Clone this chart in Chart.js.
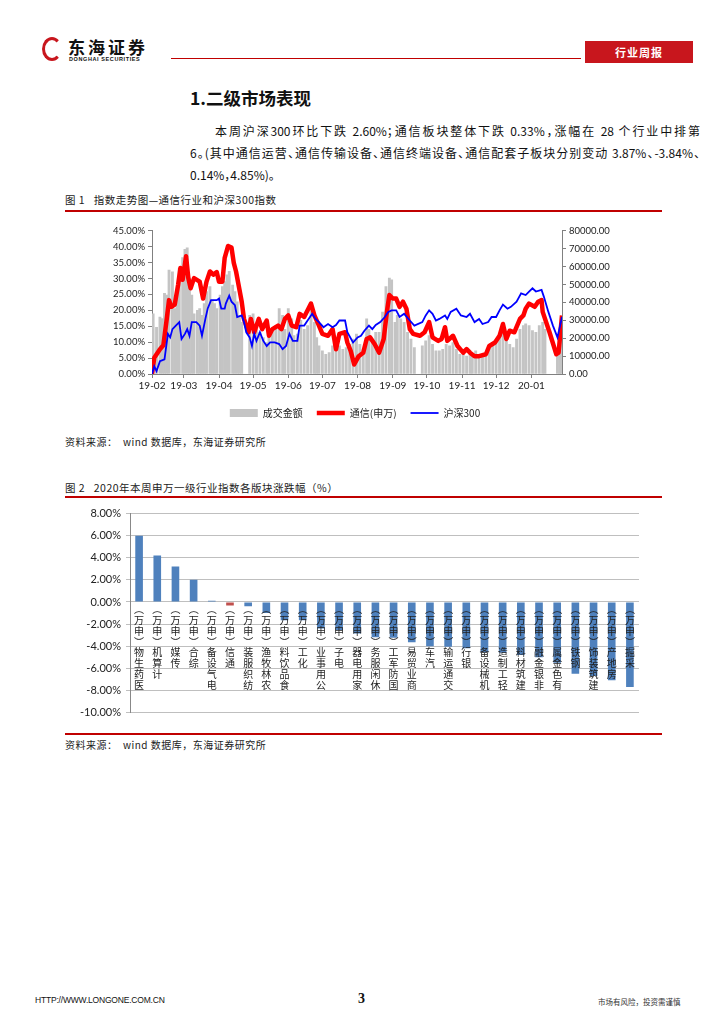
<!DOCTYPE html>
<html>
<head>
<meta charset="utf-8">
<script src="https://cdn.jsdelivr.net/npm/chart.js@4.4.1/dist/chart.umd.min.js"></script>
<style>
body{margin:0;width:724px;height:1024px;position:relative;background:#fff;overflow:hidden;
  font-family:"Noto Sans CJK SC","Noto Sans",sans-serif;color:#111}
.a{position:absolute;white-space:nowrap}
.redline{position:absolute;background:#C00000}
.cap{font-size:10.5px;letter-spacing:.5px;color:#222}
.para{position:absolute;left:190px;width:510px;font-size:12px;line-height:22px;font-feature-settings:"halt"}
.para div{text-align:justify;text-align-last:justify;height:22px;white-space:nowrap}
</style>
</head>
<body>
<!-- header -->
<div class="a" style="left:42px;top:37px;width:20px;height:24px;border:3px solid #C8161D;border-radius:50%;border-right-color:transparent;box-sizing:border-box"></div>
<div class="a" style="left:68px;top:34px;font-size:17px;font-weight:bold;letter-spacing:3px;color:#111">东海证券</div>
<div class="a" style="left:69px;top:56px;font-size:5.5px;font-weight:bold;letter-spacing:.6px;font-family:'Liberation Sans'">DONGHAI SECURITIES</div>
<div class="redline" style="left:171px;top:58px;width:410px;height:1px"></div>
<div class="a" style="left:585px;top:41px;width:108px;height:22px;background:#C8161D;color:#fff;font-size:11px;font-weight:bold;text-align:center;line-height:22px;letter-spacing:1px">行业周报</div>

<div class="a" style="left:190px;top:85px;font-size:17.5px;font-weight:bold">1.二级市场表现</div>
<div class="para" style="top:120px">
  <div style="text-indent:25px">本周沪深300环比下跌 2.60%；通信板块整体下跌 0.33%，涨幅在 28 个行业中排第</div>
  <div>6。(其中通信运营、通信传输设备、通信终端设备、通信配套子板块分别变动 3.87%、-3.84%、</div>
  <div style="text-align-last:left">0.14%，4.85%)。</div>
</div>

<div class="a cap" style="left:65px;top:192px">图 1&nbsp;&nbsp;&nbsp;指数走势图—通信行业和沪深300指数</div>
<div class="redline" style="left:65px;top:210px;width:597px;height:2px"></div>
<div class="a" style="left:60px;top:222px;width:590px;height:208px"><canvas id="c1"></canvas></div>
<div class="a cap" style="left:65px;top:434px;font-size:10px">资料来源：&nbsp;&nbsp;wind 数据库，东海证券研究所</div>

<div class="a cap" style="left:65px;top:480px">图 2&nbsp;&nbsp;&nbsp;2020年本周申万一级行业指数各版块涨跌幅（%）</div>
<div class="redline" style="left:65px;top:496px;width:597px;height:2px"></div>
<div class="a" style="left:60px;top:502px;width:600px;height:222px"><canvas id="c2"></canvas></div>
<div class="redline" style="left:65px;top:733px;width:597px;height:2px"></div>
<div class="a cap" style="left:65px;top:737px;font-size:10px">资料来源：&nbsp;&nbsp;wind 数据库，东海证券研究所</div>

<!-- footer -->
<div class="a" style="left:35px;top:995px;font-size:8.5px;font-family:'Liberation Sans';letter-spacing:-.2px">HTTP://WWW.LONGONE.COM.CN</div>
<div class="a" style="left:358px;top:991px;font-size:14px;font-weight:bold;font-family:'Liberation Serif'">3</div>
<div class="a" style="left:598px;top:996px;font-size:7.5px;color:#333">市场有风险，投资需谨慎</div>

<script>
// ---- 图1 数据（x 为自 2019-02-11 起的天数）----
const tickDays = [0, 28, 59, 89, 120, 150, 181, 212, 242, 273, 303, 334];
const tickLabels = ['19-02', '19-03', '19-04', '19-05', '19-06', '19-07', '19-08', '19-09', '19-10', '19-11', '19-12', '20-01'];

const volDays = [1, 4, 7, 9, 11, 13, 15, 18, 20, 22,
  24, 27, 29, 31, 33, 35, 37, 40, 42, 44,
  46, 48, 51, 53, 55, 57, 60, 62, 64, 66,
  68, 71, 73, 75, 77, 79, 86, 89, 92, 95,
  98, 101, 103, 106, 109, 112, 115, 117, 120, 123,
  125, 128, 131, 134, 137, 140, 143, 145, 147, 150,
  153, 156, 159, 162, 165, 168, 171, 174, 177, 180,
  183, 186, 189, 191, 194, 197, 200, 203, 206, 209,
  211, 214, 216, 219, 222, 225, 228, 231, 238, 241,
  244, 247, 250, 253, 256, 259, 262, 265, 268, 271,
  274, 277, 280, 282, 285, 288, 291, 294, 297, 300,
  303, 306, 309, 312, 315, 318, 321, 324, 327, 329,
  332, 335, 338, 341, 344, 346, 357, 359, 360];
const volValues = [33600, 26000, 31800, 31000, 45000, 44000, 58000, 57000, 36500, 42000,
  59000, 65000, 69600, 70500, 53500, 44000, 33600, 35500, 36500, 32700,
  39300, 46000, 48800, 41200, 39300, 36500, 44000, 48800, 51600, 55400,
  57300, 49700, 46000, 40300, 32700, 28900, 32700, 33600, 25000, 23300,
  20400, 17600, 22300, 25000, 27000, 36500, 32700, 25000, 36500, 30800,
  21400, 22300, 29900, 25000, 27000, 37400, 28900, 20400, 15700, 12900,
  11000, 11900, 15700, 13800, 15700, 13800, 14700, 16600, 19500, 22300,
  16600, 13800, 30800, 25000, 17600, 23300, 23300, 34600, 48800, 53500,
  52600, 28900, 32700, 30800, 28900, 23300, 19500, 14700, 15700, 18500,
  21400, 16600, 12900, 12900, 13800, 16600, 15700, 17600, 13800, 11000,
  11900, 10000, 11900, 10000, 12900, 10000, 11000, 11900, 14700, 17600,
  18500, 21400, 23300, 22300, 16600, 14700, 19500, 25000, 27000, 28000,
  27000, 24200, 23300, 27000, 28900, 25000, 13800, 18000, 20000];

const telDays = [0, 2, 7, 10, 13, 15, 17, 20, 23, 25,
  27, 30, 32, 34, 37, 42, 45, 48, 51, 54,
  57, 59, 62, 64, 67, 70, 72, 74, 79, 81,
  85, 87, 90, 94, 97, 101, 103, 106, 111, 114,
  117, 120, 123, 127, 130, 134, 137, 140, 143, 147,
  150, 155, 159, 162, 165, 170, 172, 175, 178, 182,
  186, 189, 192, 196, 200, 204, 207, 209, 212, 215,
  218, 221, 224, 227, 230, 236, 240, 244, 247, 252,
  255, 258, 260, 265, 269, 274, 277, 280, 284, 288,
  294, 297, 302, 306, 309, 312, 315, 319, 324, 327,
  329, 332, 337, 340, 343, 344, 350, 356, 358, 361];
const telValues = [0, 5.1, 7.8, 9.0, 17.3, 23.2, 21.1, 21.8, 28.0, 33.3,
  29.6, 37.0, 30.1, 26.9, 30.1, 29.0, 23.7, 29.0, 32.2, 31.2,
  32.0, 29.0, 29.0, 36.5, 40.2, 39.7, 34.9, 32.2, 22.7, 17.3,
  13.1, 17.3, 13.1, 17.3, 14.1, 16.8, 12.0, 14.1, 15.2, 14.1,
  17.3, 18.4, 15.2, 14.7, 18.9, 17.9, 20.0, 22.1, 18.4, 15.2,
  12.6, 12.0, 14.1, 7.8, 12.6, 13.1, 9.9, 7.2, 3.0, 5.6,
  6.7, 11.0, 11.5, 9.4, 6.7, 11.0, 20.0, 24.8, 23.7, 23.7,
  21.1, 22.7, 20.5, 14.1, 12.6, 12.0, 13.1, 16.3, 11.5, 10.4,
  11.0, 14.7, 10.4, 12.0, 8.8, 6.7, 7.8, 6.7, 5.6, 5.6,
  6.2, 8.8, 9.9, 12.0, 15.7, 11.0, 13.6, 13.1, 17.3, 18.4,
  20.5, 22.1, 21.1, 22.7, 23.2, 19.5, 13.1, 6.2, 6.7, 18.4];

const hsDays = [0, 2, 4, 7, 11, 14, 16, 18, 21, 24,
  26, 29, 31, 33, 35, 39, 42, 44, 47, 49,
  52, 57, 59, 61, 64, 65, 68, 70, 73, 75,
  79, 81, 83, 86, 88, 90, 92, 95, 98, 101,
  104, 108, 112, 115, 118, 121, 124, 128, 130, 134,
  137, 141, 144, 147, 151, 155, 159, 162, 165, 170,
  172, 177, 181, 184, 187, 191, 194, 197, 201, 205,
  208, 211, 215, 218, 222, 227, 231, 238, 241, 244,
  247, 250, 253, 258, 260, 263, 268, 272, 277, 280,
  284, 288, 291, 296, 299, 303, 306, 309, 313, 316,
  321, 325, 329, 332, 335, 338, 343, 345, 349, 353,
  357, 361];
const hsValues = [0, 2.4, 0.9, 4.0, 4.6, 12.6, 11.5, 14.1, 15.2, 16.3,
  11.0, 12.6, 14.1, 12.0, 16.3, 16.3, 15.2, 12.0, 17.3, 20.5,
  23.2, 23.2, 23.7, 20.5, 20.5, 22.1, 24.6, 22.7, 21.6, 17.9,
  18.4, 16.3, 13.1, 11.5, 8.8, 12.6, 10.4, 13.1, 10.4, 8.8,
  9.9, 9.9, 9.4, 7.8, 8.8, 12.6, 10.4, 10.4, 15.2, 15.2,
  16.8, 18.9, 17.3, 16.3, 14.7, 15.7, 14.7, 15.4, 16.8, 16.8,
  13.1, 9.9, 11.5, 12.0, 13.6, 15.2, 14.1, 15.4, 16.3, 17.9,
  19.5, 20.0, 20.0, 17.9, 18.9, 16.8, 15.2, 16.3, 18.4, 20.0,
  18.9, 16.8, 17.3, 18.4, 17.3, 19.5, 20.5, 18.4, 17.9, 18.9,
  16.3, 17.3, 15.7, 16.3, 17.9, 17.9, 20.0, 21.8, 20.5, 21.1,
  22.7, 25.3, 24.8, 25.9, 26.9, 25.9, 26.4, 24.3, 19.5, 15.2,
  11.5, 17.9];

// ---- 图2 数据 ----
const industries = ['医药生物', '计算机', '传媒', '综合', '电气设备', '通信', '纺织服装', '农林牧渔', '食品饮料', '化工',
  '公用事业', '电子', '家用电器', '休闲服务', '国防军工', '商业贸易', '汽车', '交通运输', '银行', '机械设备',
  '轻工制造', '建筑材料', '非银金融', '有色金属', '钢铁', '建筑装饰', '房地产', '采掘'];
const weekChange = [6.0, 4.2, 3.2, 2.0, 0.1, -0.33, -0.4, -1.0, -1.65, -1.65,
  -2.4, -2.55, -2.85, -3.2, -3.25, -3.65, -4.0, -4.05, -4.2, -4.55,
  -4.6, -4.8, -5.0, -5.5, -6.5, -6.7, -7.1, -7.7];

Chart.defaults.font.family = 'Lato, "Noto Sans CJK SC", sans-serif';
Chart.defaults.color = '#222';
Chart.defaults.animation = false;

const pts = (xs, ys) => xs.map((x, i) => ({x: x, y: ys[i]}));

new Chart(document.getElementById('c1'), {
  type: 'bar',
  data: {
    datasets: [{
      label: '成交金额',
      data: pts(volDays, volValues),
      yAxisID: 'y1',
      backgroundColor: '#C4C4C4',
      barThickness: 2.2,
      pointStyle: 'rect',
      order: 3
    }, {
      type: 'line',
      label: '通信(申万)',
      data: pts(telDays, telValues),
      yAxisID: 'y',
      borderColor: '#FF0000',
      backgroundColor: '#FF0000',
      borderWidth: 4.5,
      pointRadius: 0,
      borderJoinStyle: 'round',
      pointStyle: 'line',
      order: 2
    }, {
      type: 'line',
      label: '沪深300',
      data: pts(hsDays, hsValues),
      yAxisID: 'y',
      borderColor: '#0000FF',
      backgroundColor: '#0000FF',
      borderWidth: 1.8,
      pointRadius: 0,
      pointStyle: 'line',
      order: 1
    }]
  },
  options: {
    responsive: true,
    maintainAspectRatio: false,
    layout: {padding: {top: 4, bottom: 2}},
    plugins: {
      tooltip: {enabled: false},
      legend: {
        position: 'bottom',
        labels: {
          usePointStyle: true,
          pointStyleWidth: 28,
          boxHeight: 8,
          padding: 14,
          font: {size: 10, family: '"Noto Sans CJK SC"'},
          sort: (a, b) => a.datasetIndex - b.datasetIndex
        }
      }
    },
    scales: {
      x: {
        type: 'linear',
        min: 0,
        max: 361,
        offset: false,
        afterBuildTicks: s => { s.ticks = tickDays.map(v => ({value: v})); },
        ticks: {
          callback: v => tickLabels[tickDays.indexOf(v)],
          autoSkip: false, maxRotation: 0, padding: 2,
          font: {size: 10}
        },
        grid: {drawOnChartArea: false, offset: false, tickLength: 4, color: '#808080'},
        border: {color: '#808080'}
      },
      y: {
        position: 'left',
        min: 0, max: 45,
        ticks: {stepSize: 5, callback: v => v.toFixed(2) + '%', font: {size: 9.5}, padding: 3},
        grid: {drawOnChartArea: false, tickLength: 4, color: '#808080'},
        border: {color: '#808080'},
        afterFit: s => { s.width = 92; }
      },
      y1: {
        position: 'right',
        min: 0, max: 80000,
        ticks: {stepSize: 10000, callback: v => v.toFixed(2), font: {size: 9.5}, padding: 3},
        grid: {drawOnChartArea: false, tickLength: 4, color: '#808080'},
        border: {color: '#808080'},
        afterFit: s => { s.width = 88; }
      }
    }
  }
});

// 标签自下而上竖排：顶端靠近零轴
new Chart(document.getElementById('c2'), {
  type: 'bar',
  data: {
    labels: industries.map(n => Array.from(n + '︶申万︵').reverse()),
    datasets: [{
      label: '涨跌幅',
      data: weekChange,
      backgroundColor: industries.map(n => n === '通信' ? '#C0504D' : '#4F81BD'),
      barPercentage: 0.42,
      categoryPercentage: 1
    }]
  },
  options: {
    responsive: true,
    maintainAspectRatio: false,
    layout: {padding: {top: 4, right: 21, bottom: 6}},
    plugins: {legend: {display: false}, tooltip: {enabled: false}},
    scales: {
      x: {
        position: {y: 0},
        grid: {display: false, drawTicks: false},
        border: {display: false},
        ticks: {
          z: 1,
          autoSkip: false, maxRotation: 0, minRotation: 0, padding: 2,
          font: {size: 10, lineHeight: '10.8px', family: '"Noto Sans CJK SC"'},
          color: '#222'
        }
      },
      y: {
        min: -10, max: 8,
        ticks: {stepSize: 2, callback: v => v.toFixed(2) + '%', font: {size: 11}, padding: 5},
        grid: {color: '#BFBFBF', tickLength: 4},
        border: {color: '#888'},
        afterFit: s => { s.width = 70; }
      }
    }
  }
});
</script>
</body>
</html>
